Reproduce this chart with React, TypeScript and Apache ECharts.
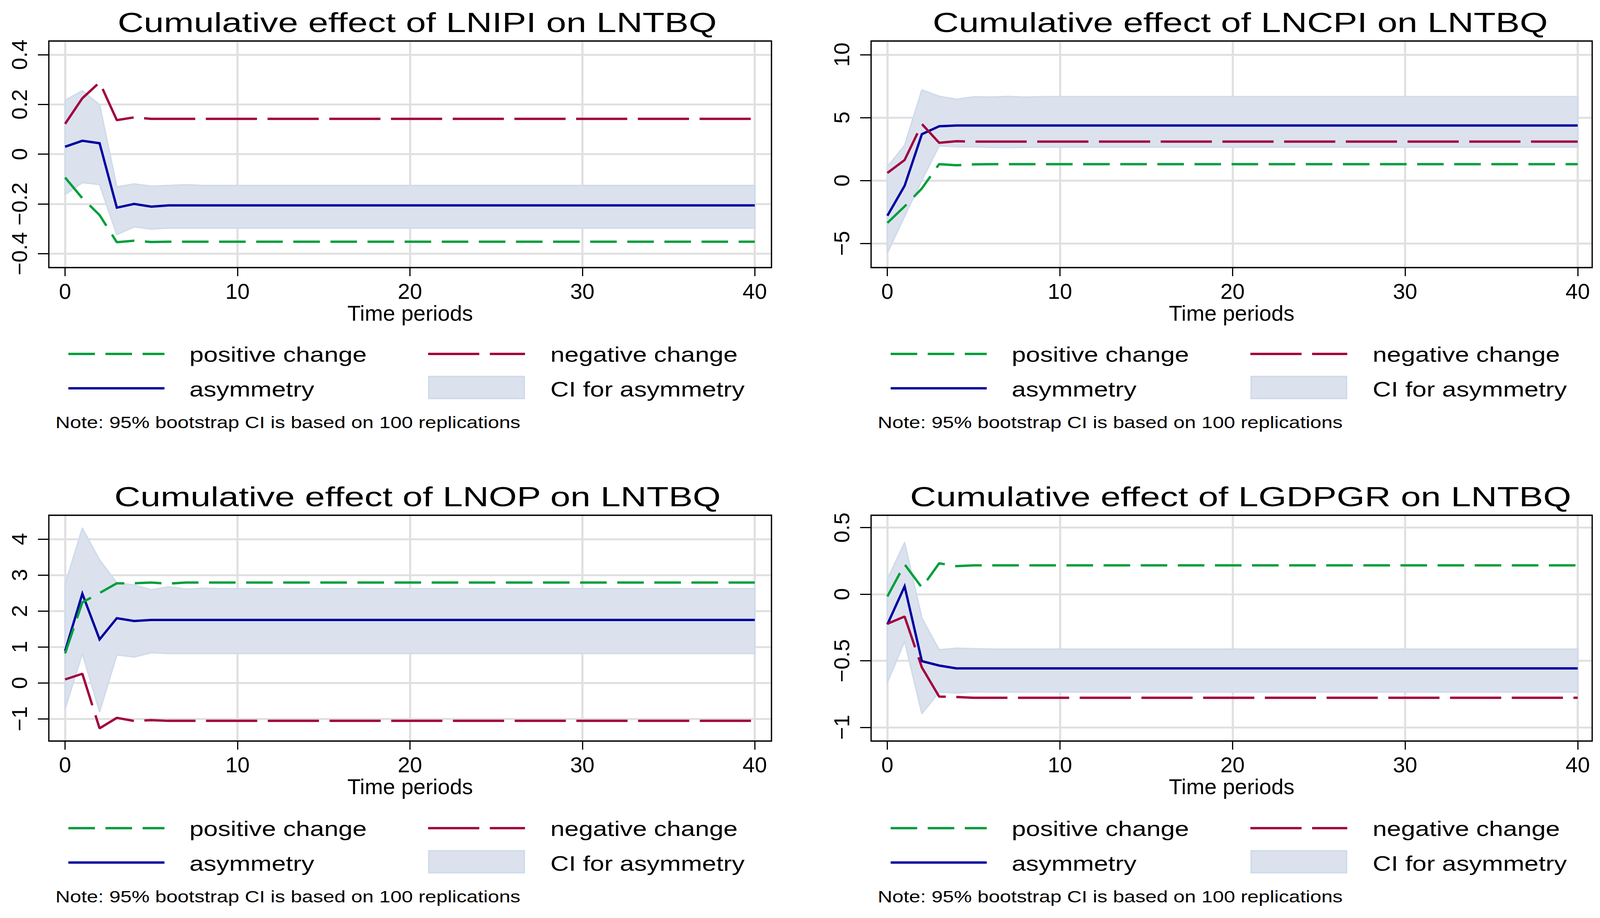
import React, { useEffect, useRef } from 'react';
import * as echarts from 'echarts';

// ---------- data ----------
const PERIODS = [0,1,2,3,4,5,6,7,8,9,10,11,12,13,14,15,16,17,18,19,20,21,22,23,24,25,26,27,28,29,30,31,32,33,34,35,36,37,38,39,40];
const X_TICKS = [0, 10, 20, 30, 40];
const X_NAME = 'Time periods';

const TITLES = [
  'Cumulative effect of LNIPI on LNTBQ',
  'Cumulative effect of LNCPI on LNTBQ',
  'Cumulative effect of LNOP on LNTBQ',
  'Cumulative effect of LGDPGR on LNTBQ',
];

const Y_TICKS = [
  [-0.4, -0.2, 0, 0.2, 0.4],
  [-5, 0, 5, 10],
  [-1, 0, 1, 2, 3, 4],
  [-1, -0.5, 0, 0.5],
];
const Y_RANGES = [
  [-0.456, 0.455],
  [-6.92, 11.085],
  [-1.618, 4.663],
  [-1.103, 0.593],
];

const LEGEND_LABELS = ['positive change', 'negative change', 'asymmetry', 'CI for asymmetry'];
const NOTE = 'Note: 95% bootstrap CI is based on 100 replications';

// Panel 1: LNIPI
const LNIPI_POS = [
  -0.094,-0.177,-0.245,-0.354,-0.348,-0.353,-0.352,-0.352,-0.352,-0.352,
  -0.352,-0.352,-0.352,-0.352,-0.352,-0.352,-0.352,-0.352,-0.352,-0.352,
  -0.352,-0.352,-0.352,-0.352,-0.352,-0.352,-0.352,-0.352,-0.352,-0.352,
  -0.352,-0.352,-0.352,-0.352,-0.352,-0.352,-0.352,-0.352,-0.352,-0.352,
  -0.352];
const LNIPI_NEG = [
  0.122,0.225,0.289,0.137,0.148,0.142,0.142,0.142,0.142,0.142,
  0.142,0.142,0.142,0.142,0.142,0.142,0.142,0.142,0.142,0.142,
  0.142,0.142,0.142,0.142,0.142,0.142,0.142,0.142,0.142,0.142,
  0.142,0.142,0.142,0.142,0.142,0.142,0.142,0.142,0.142,0.142,
  0.142];
const LNIPI_ASY = [
  0.030,0.054,0.044,-0.215,-0.200,-0.211,-0.206,-0.206,-0.206,-0.206,
  -0.206,-0.206,-0.206,-0.206,-0.206,-0.206,-0.206,-0.206,-0.206,-0.206,
  -0.206,-0.206,-0.206,-0.206,-0.206,-0.206,-0.206,-0.206,-0.206,-0.206,
  -0.206,-0.206,-0.206,-0.206,-0.206,-0.206,-0.206,-0.206,-0.206,-0.206,
  -0.206];
const LNIPI_CIU = [
  0.216,0.255,0.198,-0.132,-0.120,-0.129,-0.126,-0.123,-0.126,-0.126,
  -0.126,-0.126,-0.126,-0.126,-0.126,-0.126,-0.126,-0.126,-0.126,-0.126,
  -0.126,-0.126,-0.126,-0.126,-0.126,-0.126,-0.126,-0.126,-0.126,-0.126,
  -0.126,-0.126,-0.126,-0.126,-0.126,-0.126,-0.126,-0.126,-0.126,-0.126,
  -0.126];
const LNIPI_CIL = [
  -0.162,-0.114,-0.122,-0.323,-0.292,-0.301,-0.297,-0.297,-0.297,-0.297,
  -0.297,-0.297,-0.297,-0.297,-0.297,-0.297,-0.297,-0.297,-0.297,-0.297,
  -0.297,-0.297,-0.297,-0.297,-0.297,-0.297,-0.297,-0.297,-0.297,-0.297,
  -0.297,-0.297,-0.297,-0.297,-0.297,-0.297,-0.297,-0.297,-0.297,-0.297,
  -0.297];

// Panel 2: LNCPI
const LNCPI_POS = [
  -3.37,-2.06,-0.63,1.30,1.21,1.28,1.30,1.30,1.30,1.30,
  1.30,1.30,1.30,1.30,1.30,1.30,1.30,1.30,1.30,1.30,
  1.30,1.30,1.30,1.30,1.30,1.30,1.30,1.30,1.30,1.30,
  1.30,1.30,1.30,1.30,1.30,1.30,1.30,1.30,1.30,1.30,
  1.30];
const LNCPI_NEG = [
  0.60,1.63,4.49,3.00,3.12,3.09,3.09,3.09,3.09,3.09,
  3.09,3.09,3.09,3.09,3.09,3.09,3.09,3.09,3.09,3.09,
  3.09,3.09,3.09,3.09,3.09,3.09,3.09,3.09,3.09,3.09,
  3.09,3.09,3.09,3.09,3.09,3.09,3.09,3.09,3.09,3.09,
  3.09];
const LNCPI_ASY = [
  -2.80,-0.42,3.68,4.31,4.37,4.37,4.37,4.37,4.37,4.37,
  4.37,4.37,4.37,4.37,4.37,4.37,4.37,4.37,4.37,4.37,
  4.37,4.37,4.37,4.37,4.37,4.37,4.37,4.37,4.37,4.37,
  4.37,4.37,4.37,4.37,4.37,4.37,4.37,4.37,4.37,4.37,
  4.37];
const LNCPI_CIU = [
  1.09,2.80,7.19,6.69,6.45,6.65,6.63,6.68,6.62,6.66,
  6.66,6.66,6.66,6.66,6.66,6.66,6.66,6.66,6.66,6.66,
  6.66,6.66,6.66,6.66,6.66,6.66,6.66,6.66,6.66,6.66,
  6.66,6.66,6.66,6.66,6.66,6.66,6.66,6.66,6.66,6.66,
  6.66];
const LNCPI_CIL = [
  -5.75,-2.83,0.02,2.76,2.68,2.68,2.64,2.62,2.65,2.66,
  2.66,2.66,2.66,2.66,2.66,2.66,2.66,2.66,2.66,2.66,
  2.66,2.66,2.66,2.66,2.66,2.66,2.66,2.66,2.66,2.66,
  2.66,2.66,2.66,2.66,2.66,2.66,2.66,2.66,2.66,2.66,
  2.66];

// Panel 3: LNOP
const LNOP_POS = [
  0.82,2.24,2.50,2.77,2.77,2.79,2.76,2.79,2.79,2.79,
  2.79,2.79,2.79,2.79,2.79,2.79,2.79,2.79,2.79,2.79,
  2.79,2.79,2.79,2.79,2.79,2.79,2.79,2.79,2.79,2.79,
  2.79,2.79,2.79,2.79,2.79,2.79,2.79,2.79,2.79,2.79,
  2.79];
const LNOP_NEG = [
  0.096,0.254,-1.265,-0.973,-1.060,-1.036,-1.057,-1.057,-1.057,-1.057,
  -1.057,-1.057,-1.057,-1.057,-1.057,-1.057,-1.057,-1.057,-1.057,-1.057,
  -1.057,-1.057,-1.057,-1.057,-1.057,-1.057,-1.057,-1.057,-1.057,-1.057,
  -1.057,-1.057,-1.057,-1.057,-1.057,-1.057,-1.057,-1.057,-1.057,-1.057,
  -1.057];
const LNOP_ASY = [
  0.886,2.48,1.21,1.80,1.72,1.75,1.75,1.75,1.75,1.75,
  1.75,1.75,1.75,1.75,1.75,1.75,1.75,1.75,1.75,1.75,
  1.75,1.75,1.75,1.75,1.75,1.75,1.75,1.75,1.75,1.75,
  1.75,1.75,1.75,1.75,1.75,1.75,1.75,1.75,1.75,1.75,
  1.75];
const LNOP_CIU = [
  2.74,4.30,3.42,2.78,2.72,2.59,2.67,2.61,2.63,2.62,
  2.62,2.62,2.62,2.62,2.62,2.62,2.62,2.62,2.62,2.62,
  2.62,2.62,2.62,2.62,2.62,2.62,2.62,2.62,2.62,2.62,
  2.62,2.62,2.62,2.62,2.62,2.62,2.62,2.62,2.62,2.62,
  2.62];
const LNOP_CIL = [
  -0.72,0.82,-0.80,0.78,0.72,0.84,0.82,0.82,0.82,0.82,
  0.82,0.82,0.82,0.82,0.82,0.82,0.82,0.82,0.82,0.82,
  0.82,0.82,0.82,0.82,0.82,0.82,0.82,0.82,0.82,0.82,
  0.82,0.82,0.82,0.82,0.82,0.82,0.82,0.82,0.82,0.82,
  0.82];

// Panel 4: LGDPGR
const LGDPGR_POS = [
  -0.017,0.224,0.050,0.232,0.211,0.217,0.217,0.217,0.217,0.217,
  0.217,0.217,0.217,0.217,0.217,0.217,0.217,0.217,0.217,0.217,
  0.217,0.217,0.217,0.217,0.217,0.217,0.217,0.217,0.217,0.217,
  0.217,0.217,0.217,0.217,0.217,0.217,0.217,0.217,0.217,0.217,
  0.217];
const LGDPGR_NEG = [
  -0.222,-0.168,-0.550,-0.769,-0.772,-0.778,-0.778,-0.778,-0.778,-0.778,
  -0.778,-0.778,-0.778,-0.778,-0.778,-0.778,-0.778,-0.778,-0.778,-0.778,
  -0.778,-0.778,-0.778,-0.778,-0.778,-0.778,-0.778,-0.778,-0.778,-0.778,
  -0.778,-0.778,-0.778,-0.778,-0.778,-0.778,-0.778,-0.778,-0.778,-0.778,
  -0.778];
const LGDPGR_ASY = [
  -0.227,0.059,-0.503,-0.536,-0.557,-0.557,-0.557,-0.557,-0.557,-0.557,
  -0.557,-0.557,-0.557,-0.557,-0.557,-0.557,-0.557,-0.557,-0.557,-0.557,
  -0.557,-0.557,-0.557,-0.557,-0.557,-0.557,-0.557,-0.557,-0.557,-0.557,
  -0.557,-0.557,-0.557,-0.557,-0.557,-0.557,-0.557,-0.557,-0.557,-0.557,
  -0.557];
const LGDPGR_CIU = [
  0.112,0.387,-0.180,-0.418,-0.406,-0.410,-0.413,-0.413,-0.413,-0.413,
  -0.413,-0.413,-0.413,-0.413,-0.413,-0.413,-0.413,-0.413,-0.413,-0.413,
  -0.413,-0.413,-0.413,-0.413,-0.413,-0.413,-0.413,-0.413,-0.413,-0.413,
  -0.413,-0.413,-0.413,-0.413,-0.413,-0.413,-0.413,-0.413,-0.413,-0.413,
  -0.413];
const LGDPGR_CIL = [
  -0.662,-0.354,-0.896,-0.735,-0.741,-0.733,-0.735,-0.735,-0.735,-0.735,
  -0.735,-0.735,-0.735,-0.735,-0.735,-0.735,-0.735,-0.735,-0.735,-0.735,
  -0.735,-0.735,-0.735,-0.735,-0.735,-0.735,-0.735,-0.735,-0.735,-0.735,
  -0.735,-0.735,-0.735,-0.735,-0.735,-0.735,-0.735,-0.735,-0.735,-0.735,
  -0.735];

const PANEL_DATA = [
  { pos: LNIPI_POS, neg: LNIPI_NEG, asy: LNIPI_ASY, ciu: LNIPI_CIU, cil: LNIPI_CIL },
  { pos: LNCPI_POS, neg: LNCPI_NEG, asy: LNCPI_ASY, ciu: LNCPI_CIU, cil: LNCPI_CIL },
  { pos: LNOP_POS, neg: LNOP_NEG, asy: LNOP_ASY, ciu: LNOP_CIU, cil: LNOP_CIL },
  { pos: LGDPGR_POS, neg: LGDPGR_NEG, asy: LGDPGR_ASY, ciu: LGDPGR_CIU, cil: LGDPGR_CIL },
];

// ---------- layout & style ----------
const LAYOUT = [
  { left: 125, right: 1975, top: 105, bottom: 685, dx: 0, dy: 0, titleX: 1068, xmin: -0.944, xmax: 40.97 },
  { left: 2230, right: 4076, top: 105, bottom: 685, dx: 2105, dy: 0, titleX: 3175, xmin: -0.943, xmax: 40.84 },
  { left: 125, right: 1975, top: 1319, bottom: 1897, dx: 0, dy: 1214, titleX: 1069, xmin: -0.944, xmax: 40.97 },
  { left: 2230, right: 4076, top: 1319, bottom: 1897, dx: 2105, dy: 1214, titleX: 3176, xmin: -0.943, xmax: 40.84 },
];

const FONT = "'Liberation Sans', Arial, Helvetica, sans-serif";
const GREEN = '#009e3b';
const MAROON = '#a1003f';
const NAVY = '#0000a0';
const BAND = '#dbe2ee';
const BAND_EDGE = '#d1dbea';
const GRID_C = '#e0e0e0';
const DASH_POS = [68, 27];
const DASH_NEG = [131, 27];
const LW = 6;

const fmtY = (v: number) => (v < 0 ? '\u2212' + String(Math.abs(v)) : String(v));

function textEl(text: string, x: number, baseline: number, size: number, sx: number, align: string) {
  return {
    type: 'text',
    x,
    y: baseline - 0.3465 * size,
    scaleX: sx,
    silent: true,
    z: 50,
    style: {
      text,
      fontSize: size,
      fontFamily: FONT,
      fill: '#000',
      align,
      textAlign: align,
      verticalAlign: 'middle',
      textVerticalAlign: 'middle',
    },
  };
}

function buildOption() {
  const grid: any[] = [];
  const xAxis: any[] = [];
  const yAxis: any[] = [];
  const series: any[] = [];
  const graphic: any[] = [];

  LAYOUT.forEach((L, i) => {
    grid.push({
      left: L.left,
      top: L.top,
      width: L.right - L.left,
      height: L.bottom - L.top,
      show: false,
      containLabel: false,
      outerBoundsMode: 'none',
    });
    xAxis.push({
      type: 'value',
      gridIndex: i,
      position: 'bottom',
      min: L.xmin,
      max: L.xmax,
      axisLine: { show: false, onZero: false },
      axisTick: { show: true, length: 22, lineStyle: { color: '#000', width: 3 }, customValues: X_TICKS },
      axisLabel: { show: true, customValues: X_TICKS, fontSize: 56, fontFamily: FONT, color: '#000', margin: 32 },
      splitLine: { show: true, lineStyle: { color: GRID_C, width: 5.5 } },
      name: X_NAME,
      nameLocation: 'middle',
      nameGap: 85,
      nameTextStyle: { fontSize: 56, fontFamily: FONT, color: '#000' },
    });
    yAxis.push({
      type: 'value',
      gridIndex: i,
      position: 'left',
      min: Y_RANGES[i][0],
      max: Y_RANGES[i][1],
      axisLine: { show: false, onZero: false },
      axisTick: { show: true, length: 28, lineStyle: { color: '#000', width: 3 }, customValues: Y_TICKS[i] },
      axisLabel: {
        show: true,
        customValues: Y_TICKS[i],
        rotate: 90,
        margin: 48,
        fontSize: 56,
        fontFamily: FONT,
        color: '#000',
        formatter: fmtY,
      },
      splitLine: { show: true, lineStyle: { color: GRID_C, width: 5 } },
    });

    const D = PANEL_DATA[i];
    series.push({
      type: 'custom',
      name: LEGEND_LABELS[3],
      xAxisIndex: i,
      yAxisIndex: i,
      silent: true,
      z: 1,
      data: PERIODS.map((t, k) => [t, D.cil[k], D.ciu[k]]),
      encode: { x: 0, y: [1, 2] },
      renderItem: (params: any, api: any) => {
        if (params.dataIndex !== 0) return null;
        const up = PERIODS.map((t, k) => api.coord([t, D.ciu[k]]));
        const dn = PERIODS.map((t, k) => api.coord([t, D.cil[k]])).reverse();
        return {
          type: 'polygon',
          shape: { points: up.concat(dn) },
          style: { fill: BAND, stroke: BAND_EDGE, lineWidth: 4, lineJoin: 'round' },
        };
      },
    });
    series.push({
      type: 'line',
      name: LEGEND_LABELS[2],
      xAxisIndex: i,
      yAxisIndex: i,
      z: 3,
      symbol: 'none',
      showSymbol: false,
      silent: true,
      data: PERIODS.map((t, k) => [t, D.asy[k]]),
      lineStyle: { color: NAVY, width: LW, join: 'miter' },
    });
    series.push({
      type: 'line',
      name: LEGEND_LABELS[0],
      xAxisIndex: i,
      yAxisIndex: i,
      z: 4,
      symbol: 'none',
      showSymbol: false,
      silent: true,
      data: PERIODS.map((t, k) => [t, D.pos[k]]),
      lineStyle: { color: GREEN, width: LW, type: DASH_POS },
    });
    series.push({
      type: 'line',
      name: LEGEND_LABELS[1],
      xAxisIndex: i,
      yAxisIndex: i,
      z: 4,
      symbol: 'none',
      showSymbol: false,
      silent: true,
      data: PERIODS.map((t, k) => [t, D.neg[k]]),
      lineStyle: { color: MAROON, width: LW, type: DASH_NEG },
    });

    // frame
    graphic.push({
      type: 'rect',
      silent: true,
      z: 60,
      shape: { x: L.left, y: L.top, width: L.right - L.left, height: L.bottom - L.top },
      style: { fill: 'none', stroke: '#000', lineWidth: 3.3 },
    });
    // title
    graphic.push(textEl(TITLES[i], L.titleX, 82 + L.dy, 70, 1.32, 'center'));
    // legend
    const dx = L.dx;
    const dy = L.dy;
    graphic.push({
      type: 'line', silent: true, z: 50,
      shape: { x1: 175 + dx, y1: 906 + dy, x2: 421 + dx, y2: 906 + dy },
      style: { stroke: GREEN, lineWidth: LW, lineDash: DASH_POS },
    });
    graphic.push({
      type: 'line', silent: true, z: 50,
      shape: { x1: 1096 + dx, y1: 906 + dy, x2: 1344 + dx, y2: 906 + dy },
      style: { stroke: MAROON, lineWidth: LW, lineDash: DASH_NEG },
    });
    graphic.push({
      type: 'line', silent: true, z: 50,
      shape: { x1: 175 + dx, y1: 994 + dy, x2: 421 + dx, y2: 994 + dy },
      style: { stroke: NAVY, lineWidth: LW },
    });
    graphic.push({
      type: 'rect', silent: true, z: 50,
      shape: { x: 1098 + dx, y: 964 + dy, width: 244, height: 56 },
      style: { fill: BAND, stroke: BAND_EDGE, lineWidth: 4 },
    });
    graphic.push(textEl(LEGEND_LABELS[0], 485 + dx, 926 + dy, 54, 1.21, 'left'));
    graphic.push(textEl(LEGEND_LABELS[1], 1409 + dx, 926 + dy, 54, 1.21, 'left'));
    graphic.push(textEl(LEGEND_LABELS[2], 485 + dx, 1015 + dy, 54, 1.21, 'left'));
    graphic.push(textEl(LEGEND_LABELS[3], 1409 + dx, 1015 + dy, 54, 1.21, 'left'));
    graphic.push(textEl(NOTE, 142 + dx, 1096 + dy, 43, 1.2, 'left'));
  });

  return {
    animation: false,
    backgroundColor: '#ffffff',
    grid,
    xAxis,
    yAxis,
    series,
    graphic,
  };
}

export default function App() {
  const ref = useRef<HTMLDivElement>(null);
  useEffect(() => {
    document.body.style.margin = '0';
    const chart = echarts.init(ref.current as HTMLDivElement, null, { renderer: 'svg' });
    chart.setOption(buildOption() as any);
    return () => {
      chart.dispose();
    };
  }, []);
  return (
    <div
      ref={ref}
      style={{ position: 'absolute', left: 0, top: 0, width: '4102px', height: '2350px', background: '#fff' }}
    />
  );
}
